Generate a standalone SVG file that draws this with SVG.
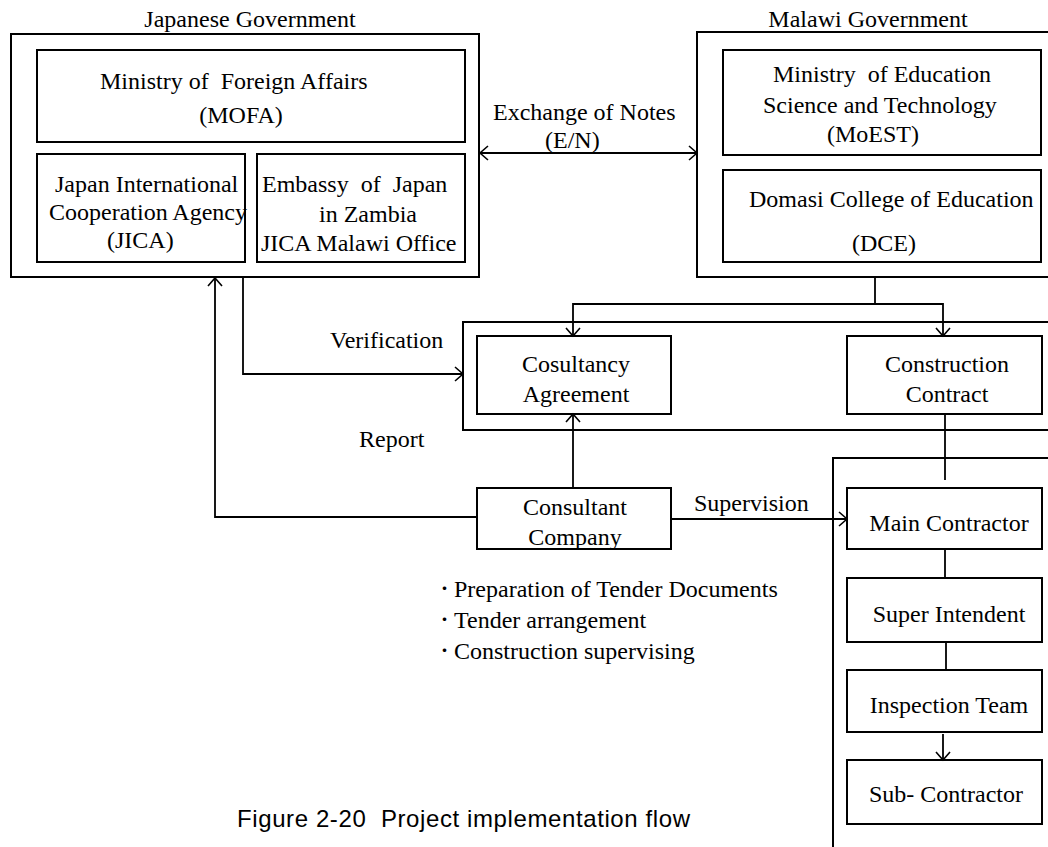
<svg xmlns="http://www.w3.org/2000/svg" width="1048" height="847" viewBox="0 0 1048 847">
<style>
.box{fill:none;stroke:#000;stroke-width:2}
.ln{fill:none;stroke:#000;stroke-width:1.8}
.t{font-family:"Liberation Serif","Times New Roman",serif;font-size:24px;fill:#000}
.c{text-anchor:middle}
.b{font-family:"Noto Sans CJK JP",sans-serif;font-size:17px}
.cap{font-family:"Liberation Sans",Arial,sans-serif;font-size:24px;fill:#000}
</style>
<defs>
<marker id="ah" markerUnits="userSpaceOnUse" markerWidth="20" markerHeight="20" viewBox="-10 -10 20 20" refX="0" refY="0" orient="auto-start-reverse">
<path d="M-8,-7 L0,0 L-8,7" fill="none" stroke="#000" stroke-width="1.6"/>
</marker>
</defs>
<rect width="1048" height="847" fill="#fff"/>

<g id="japanese-government">
<rect class="box" x="11" y="34" width="468" height="243"/>
<text class="t c" x="250" y="27">Japanese Government</text>
</g>
<g id="mofa">
<rect class="box" x="37" y="50" width="428" height="92"/>
<text class="t" x="100" y="89" xml:space="preserve">Ministry of  Foreign Affairs</text>
<text class="t c" x="241" y="123">(MOFA)</text>
</g>
<g id="jica">
<rect class="box" x="37" y="154" width="208" height="108"/>
<text class="t" x="55" y="192">Japan International</text>
<text class="t" x="49" y="220">Cooperation Agency</text>
<text class="t" x="107" y="248">(JICA)</text>
</g>
<g id="embassy">
<rect class="box" x="257" y="154" width="208" height="108"/>
<text class="t" x="262" y="192" xml:space="preserve">Embassy  of  Japan</text>
<text class="t" x="319" y="222">in Zambia</text>
<text class="t" x="261" y="251">JICA Malawi Office</text>
</g>

<g id="malawi-government">
<rect class="box" x="697" y="32" width="370" height="245"/>
<text class="t c" x="868" y="27">Malawi Government</text>
</g>
<g id="moest">
<rect class="box" x="723" y="50" width="318" height="105"/>
<text class="t" x="773" y="82" xml:space="preserve">Ministry  of Education</text>
<text class="t" x="763" y="113">Science and Technology</text>
<text class="t" x="827" y="142">(MoEST)</text>
</g>
<g id="dce">
<rect class="box" x="723" y="170" width="318" height="92"/>
<text class="t" x="749" y="207">Domasi College of Education</text>
<text class="t" x="852" y="251">(DCE)</text>
</g>

<g id="contracts">
<rect class="box" x="463" y="322" width="600" height="108"/>
</g>
<g id="consultancy-agreement">
<rect class="box" x="477" y="336" width="194" height="78"/>
<text class="t c" x="576" y="372">Cosultancy</text>
<text class="t c" x="576" y="402">Agreement</text>
</g>
<g id="construction-contract">
<rect class="box" x="847" y="336" width="195" height="78"/>
<text class="t c" x="947" y="372">Construction</text>
<text class="t c" x="947" y="402">Contract</text>
</g>

<g id="consultant-company">
<rect class="box" x="477" y="488" width="194" height="61"/>
<text class="t c" x="575" y="515">Consultant</text>
<text class="t c" x="575" y="545">Company</text>
</g>

<g id="contractors">
<rect class="box" x="833" y="458" width="240" height="400"/>
</g>
<g id="main-contractor">
<rect class="box" x="847" y="488" width="195" height="61"/>
<text class="t c" x="949" y="531">Main Contractor</text>
</g>
<g id="super-intendent">
<rect class="box" x="847" y="578" width="195" height="64"/>
<text class="t c" x="949" y="622">Super Intendent</text>
</g>
<g id="inspection-team">
<rect class="box" x="847" y="670" width="195" height="62"/>
<text class="t c" x="949" y="713">Inspection Team</text>
</g>
<g id="sub-contractor">
<rect class="box" x="847" y="760" width="195" height="64"/>
<text class="t c" x="946" y="802">Sub- Contractor</text>
</g>

<g id="labels">
<text class="t" x="493" y="120">Exchange of Notes</text>
<text class="t" x="545" y="148">(E/N)</text>
<text class="t" x="330" y="348">Verification</text>
<text class="t" x="359" y="447">Report</text>
<text class="t" x="694" y="511">Supervision</text>
<text class="t"><tspan class="b" x="436" y="595">・</tspan><tspan x="454" y="597">Preparation of Tender Documents</tspan></text>
<text class="t"><tspan class="b" x="436" y="626">・</tspan><tspan x="454" y="628">Tender arrangement</tspan></text>
<text class="t"><tspan class="b" x="436" y="657">・</tspan><tspan x="454" y="659">Construction supervising</tspan></text>
<text class="cap" x="237" y="827" textLength="453" lengthAdjust="spacing" xml:space="preserve">Figure 2-20  Project implementation flow</text>
</g>

<g id="connectors">
<line class="ln" x1="480" y1="153" x2="697" y2="153" marker-start="url(#ah)" marker-end="url(#ah)"/>
<polyline class="ln" points="477,517 215,517 215,278" marker-end="url(#ah)"/>
<polyline class="ln" points="243,277 243,374 463,374" marker-end="url(#ah)"/>
<line class="ln" x1="875" y1="277" x2="875" y2="304"/>
<polyline class="ln" points="573,336 573,304 943,304 943,336" marker-start="url(#ah)" marker-end="url(#ah)"/>
<line class="ln" x1="573" y1="488" x2="573" y2="414" marker-end="url(#ah)"/>
<line class="ln" x1="671" y1="519" x2="847" y2="519" marker-end="url(#ah)"/>
<line class="ln" x1="945" y1="414" x2="945" y2="480"/>
<line class="ln" x1="945" y1="549" x2="945" y2="578"/>
<line class="ln" x1="946" y1="642" x2="946" y2="670"/>
<line class="ln" x1="943" y1="734" x2="943" y2="760" marker-end="url(#ah)"/>
</g>
</svg>
